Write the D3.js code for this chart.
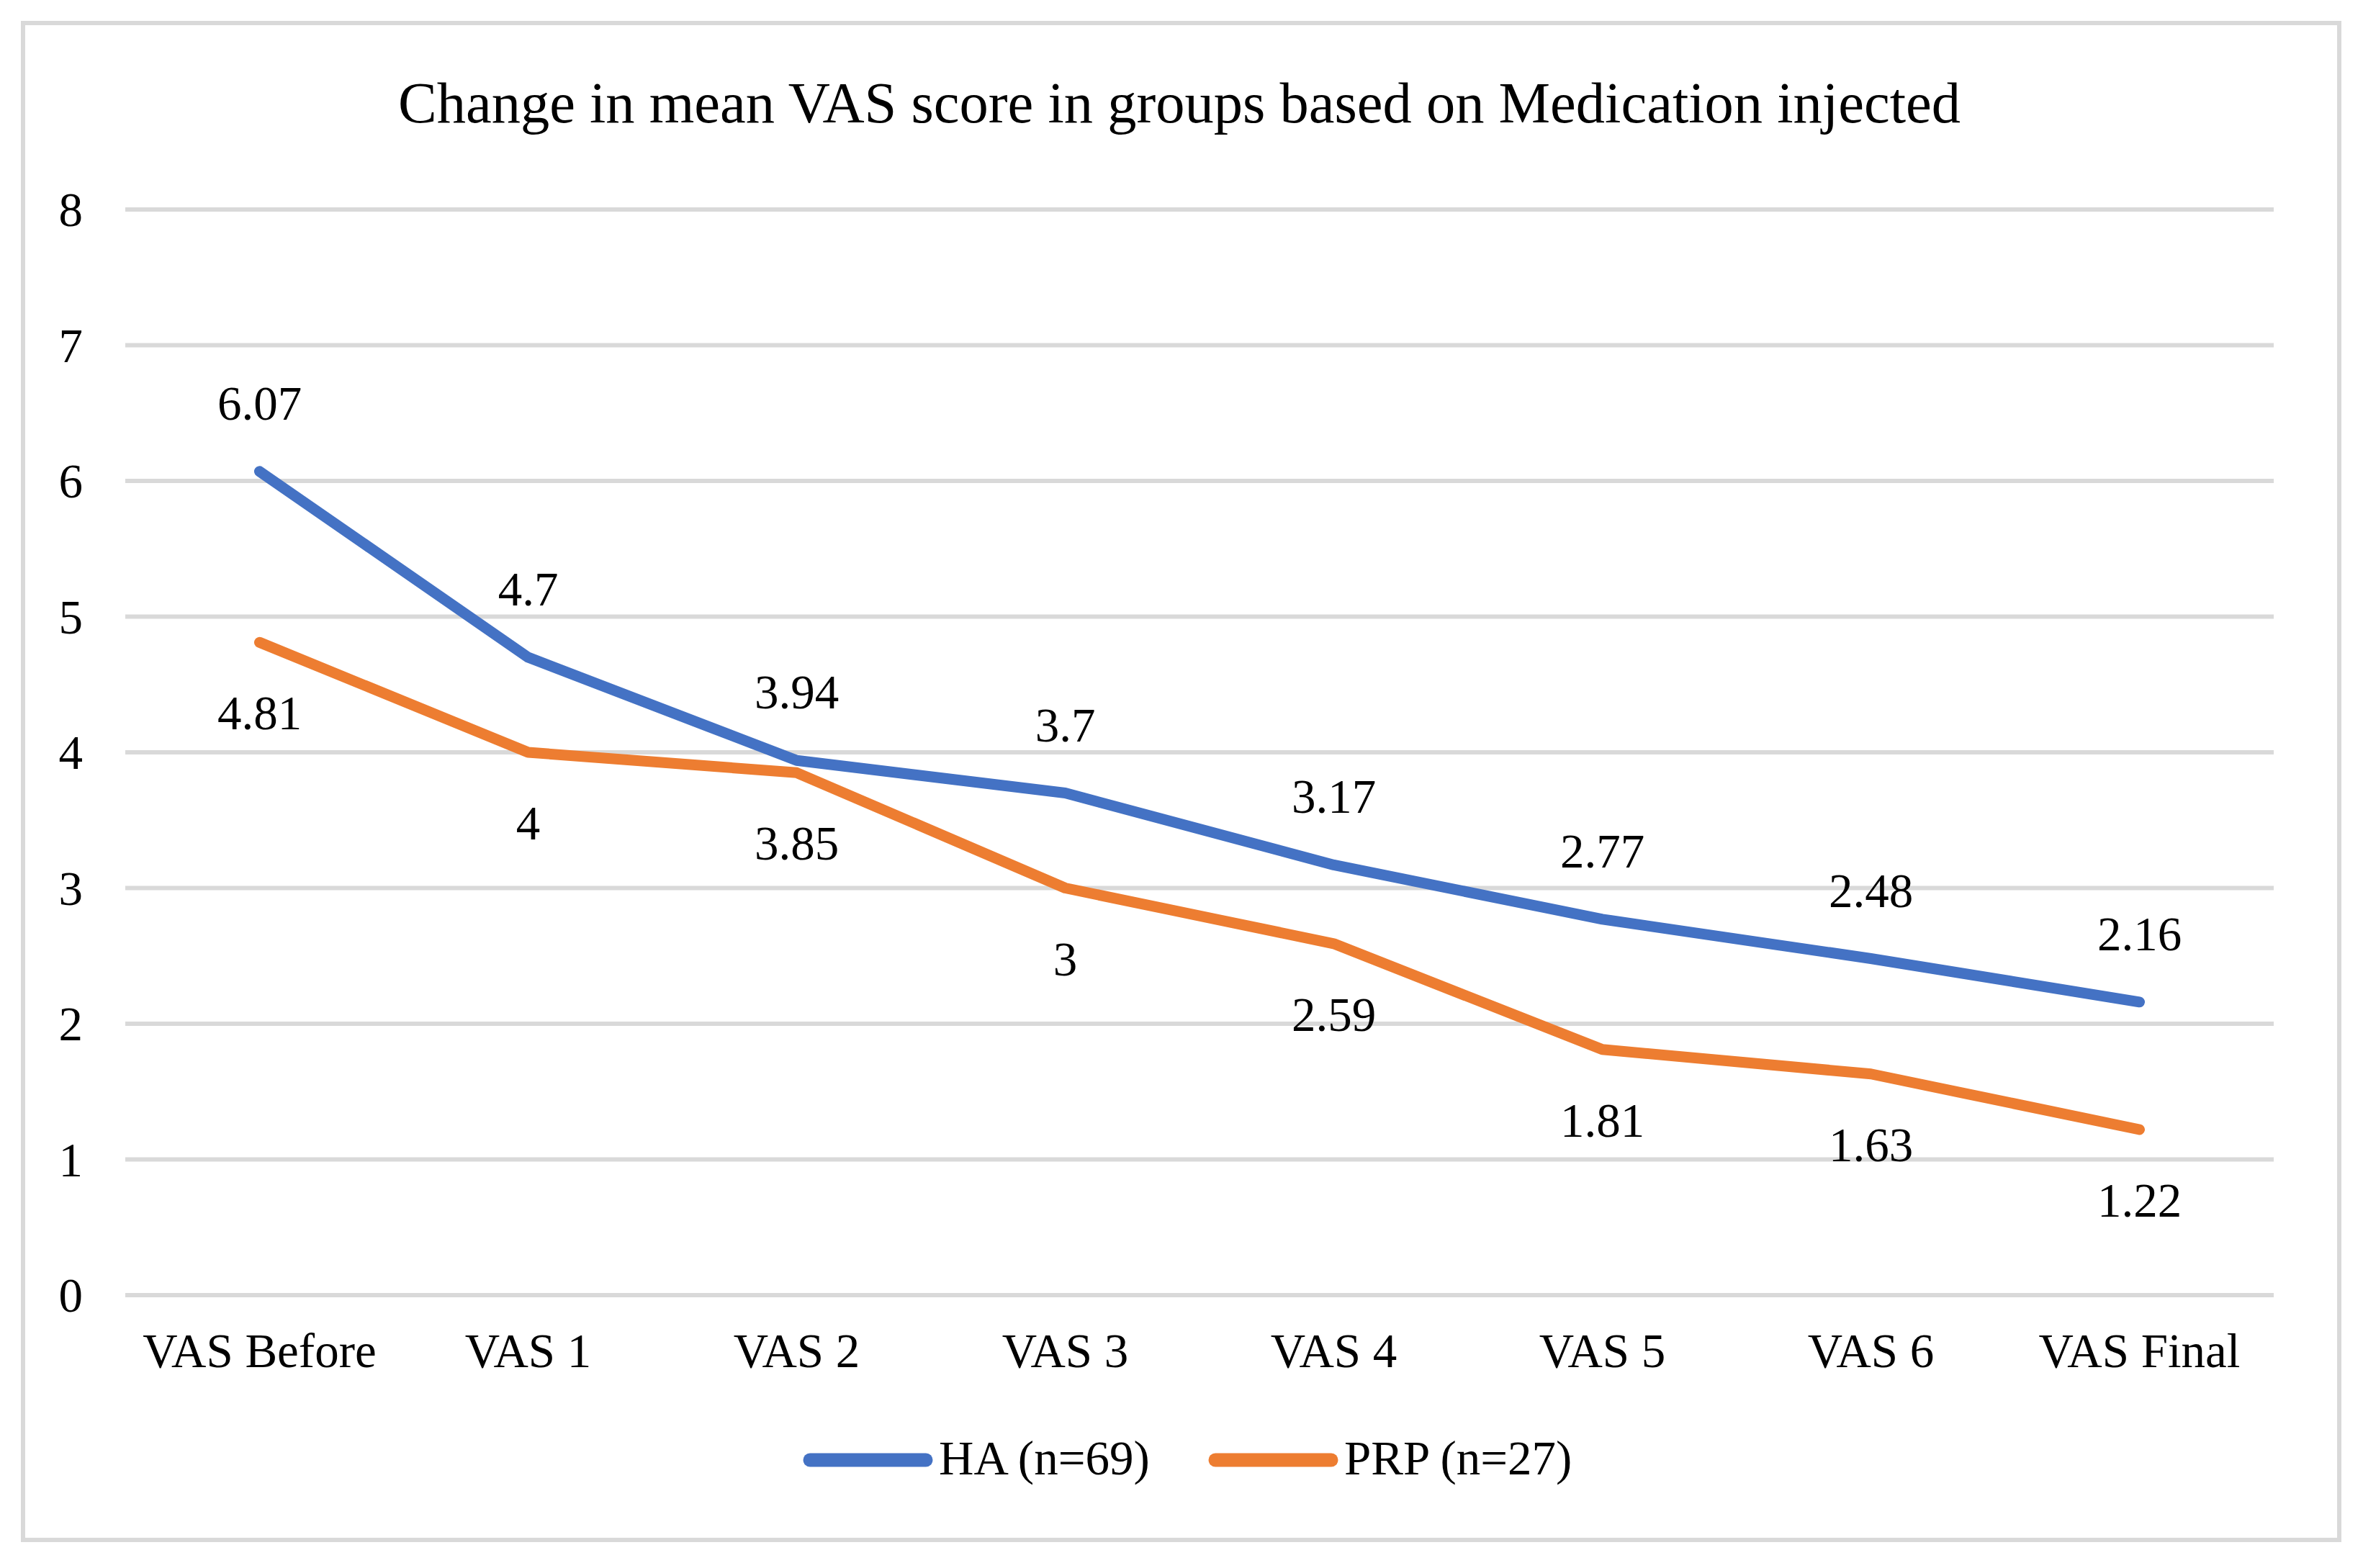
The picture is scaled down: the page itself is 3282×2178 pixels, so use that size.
<!DOCTYPE html>
<html>
<head>
<meta charset="utf-8">
<script src="https://cdn.jsdelivr.net/npm/d3@7"></script>
<style>
  body { margin: 0; background: #fff; }
  text { font-family: "Liberation Serif", "Times New Roman", serif; fill: #000; }
</style>
</head>
<body>
<div class="chart"></div>
<script>
// chart data
var categories = ["VAS Before", "VAS 1", "VAS 2", "VAS 3", "VAS 4", "VAS 5", "VAS 6", "VAS Final"];
var haValues = [6.07, 4.7, 3.94, 3.7, 3.17, 2.77, 2.48, 2.16];
var prpValues = [4.81, 4, 3.85, 3, 2.59, 1.81, 1.63, 1.22];
var seriesNames = ["HA (n=69)", "PRP (n=27)"];
var yTicks = [0, 1, 2, 3, 4, 5, 6, 7, 8];

var svgWidth = 3282;
var svgHeight = 2178;

var margin = { top: 291, right: 124, bottom: 379, left: 174 };
var width = svgWidth - margin.left - margin.right;
var height = svgHeight - margin.top - margin.bottom;

var svg = d3.select(".chart")
  .append("svg")
  .attr("width", svgWidth)
  .attr("height", svgHeight);

svg.append("rect")
  .attr("width", svgWidth)
  .attr("height", svgHeight)
  .attr("fill", "#fff");

// outer frame
svg.append("rect")
  .attr("x", 32)
  .attr("y", 32)
  .attr("width", 3217)
  .attr("height", 2107)
  .attr("fill", "none")
  .attr("stroke", "#d9d9d9")
  .attr("stroke-width", 6);

// title
svg.append("text")
  .attr("x", 1638)
  .attr("y", 170)
  .attr("text-anchor", "middle")
  .style("font-size", "80.5px")
  .text("Change in mean VAS score in groups based on Medication injected");

var chartGroup = svg.append("g")
  .attr("transform", `translate(${margin.left}, ${margin.top})`);

var x = d3.scaleBand()
  .domain(categories)
  .range([0, width])
  .padding(0);

var y = d3.scaleLinear()
  .domain([0, 8])
  .range([height, 0]);

// gridlines
chartGroup.selectAll(".grid")
  .data(yTicks)
  .enter()
  .append("line")
  .attr("class", "grid")
  .attr("x1", 0)
  .attr("x2", width)
  .attr("y1", d => y(d))
  .attr("y2", d => y(d))
  .attr("stroke", "#d9d9d9")
  .attr("stroke-width", 6);

// y axis labels
var yAxis = d3.axisLeft(y).tickValues(yTicks).tickSize(0).tickPadding(59);
var yAxisG = chartGroup.append("g").call(yAxis);
yAxisG.select(".domain").remove();
yAxisG.selectAll("text")
  .style("font-size", "67px")
  .style("font-family", "Liberation Serif, Times New Roman, serif")
  .attr("dy", "0.34em");

// x axis labels
var xAxis = d3.axisBottom(x).tickSize(0).tickPadding(52);
var xAxisG = chartGroup.append("g")
  .attr("transform", `translate(0, ${height})`)
  .call(xAxis);
xAxisG.select(".domain").remove();
xAxisG.selectAll("text")
  .style("font-size", "67px")
  .style("font-family", "Liberation Serif, Times New Roman, serif")
  .attr("dy", "0.71em");

var series = [
  { name: seriesNames[0], values: haValues, color: "#4472c4", labelPos: "above" },
  { name: seriesNames[1], values: prpValues, color: "#ed7d31", labelPos: "below" }
];

var line = d3.line()
  .x((d, i) => x(categories[i]) + x.bandwidth() / 2)
  .y(d => y(d));

// lines, in series order
series.forEach(function(s) {
  chartGroup.append("path")
    .datum(s.values)
    .attr("d", line)
    .attr("fill", "none")
    .attr("stroke", s.color)
    .attr("stroke-width", 15)
    .attr("stroke-linejoin", "round")
    .attr("stroke-linecap", "round");
});

// data labels
series.forEach(function(s) {
  chartGroup.selectAll(null)
    .data(s.values)
    .enter()
    .append("text")
    .attr("x", (d, i) => x(categories[i]) + x.bandwidth() / 2)
    .attr("y", d => s.labelPos === "above" ? y(d) - 72 : y(d) + 121)
    .attr("text-anchor", "middle")
    .style("font-size", "67px")
    .text(d => d);
});

// legend
var legendItems = [
  { name: seriesNames[0], color: "#4472c4", x: 1116 },
  { name: seriesNames[1], color: "#ed7d31", x: 1679 }
];
var legend = svg.append("g");
legendItems.forEach(function(l) {
  legend.append("line")
    .attr("x1", l.x + 9)
    .attr("x2", l.x + 170)
    .attr("y1", 2028)
    .attr("y2", 2028)
    .attr("stroke", l.color)
    .attr("stroke-width", 19)
    .attr("stroke-linecap", "round");
  legend.append("text")
    .attr("x", l.x + 188)
    .attr("y", 2048)
    .style("font-size", "67px")
    .text(l.name);
});
</script>
</body>
</html>
